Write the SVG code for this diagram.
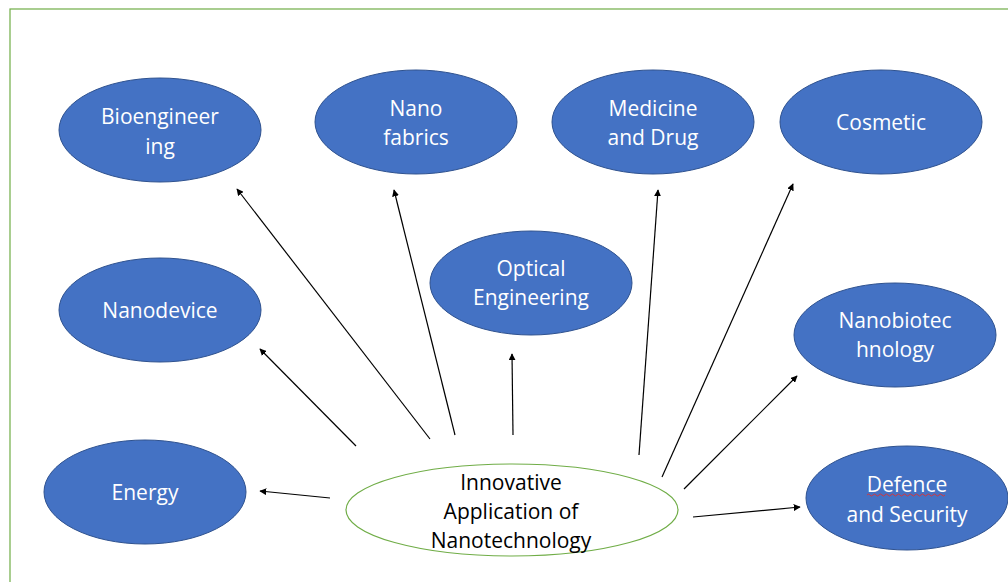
<svg xmlns="http://www.w3.org/2000/svg" width="1008" height="582" viewBox="0 0 1008 582">
  <style>
    .node { fill: #4472C4; stroke: #2F528F; stroke-width: 1; }
    .label { font-family: "Open Sans", "Liberation Sans", sans-serif; font-size: 21px; fill: #FFFFFF; text-anchor: middle; dominant-baseline: central; }
    .center-label { font-family: "Open Sans", "Liberation Sans", sans-serif; font-size: 21px; fill: #000000; text-anchor: middle; dominant-baseline: central; }
    .link { stroke: #000000; stroke-width: 1.2; fill: none; marker-end: url(#arrow); }
  </style>
  <defs>
    <marker id="arrow" viewBox="0 0 10 10" refX="9" refY="5" markerWidth="7" markerHeight="7" markerUnits="userSpaceOnUse" orient="auto">
      <path d="M0,0 L10,5 L0,10 z" fill="#000000"/>
    </marker>
  </defs>

  <rect x="0" y="0" width="1008" height="582" fill="#FFFFFF"/>
  <!-- frame -->
  <rect x="10" y="9" width="1010" height="590" fill="none" stroke="#70AD47" stroke-width="1.2"/>

  <!-- connectors -->
  <g id="connectors">
    <line class="link" x1="330" y1="498" x2="260" y2="491"/>
    <line class="link" x1="356" y1="446" x2="260" y2="349"/>
    <line class="link" x1="430" y1="439" x2="237" y2="189"/>
    <line class="link" x1="455" y1="435" x2="394" y2="190"/>
    <line class="link" x1="513" y1="435" x2="512" y2="354"/>
    <line class="link" x1="639" y1="455" x2="658" y2="190"/>
    <line class="link" x1="662" y1="477" x2="793" y2="184"/>
    <line class="link" x1="684" y1="489" x2="797" y2="376"/>
    <line class="link" x1="693" y1="517" x2="800" y2="507"/>
  </g>

  <g id="bioengineering">
    <ellipse class="node" cx="160" cy="130" rx="101" ry="52"/>
    <text class="label" x="160" y="116">Bioengineer</text>
    <text class="label" x="160" y="146">ing</text>
  </g>
  <g id="nano-fabrics">
    <ellipse class="node" cx="416" cy="122" rx="101" ry="52"/>
    <text class="label" x="416" y="108">Nano</text>
    <text class="label" x="416" y="137">fabrics</text>
  </g>
  <g id="medicine">
    <ellipse class="node" cx="653" cy="122" rx="101" ry="52"/>
    <text class="label" x="653" y="108">Medicine</text>
    <text class="label" x="653" y="137">and Drug</text>
  </g>
  <g id="cosmetic">
    <ellipse class="node" cx="881" cy="122" rx="101" ry="52"/>
    <text class="label" x="881" y="122">Cosmetic</text>
  </g>
  <g id="nanodevice">
    <ellipse class="node" cx="160" cy="310" rx="101" ry="52"/>
    <text class="label" x="160" y="310">Nanodevice</text>
  </g>
  <g id="optical-engineering">
    <ellipse class="node" cx="531" cy="283" rx="101" ry="52"/>
    <text class="label" x="531" y="268">Optical</text>
    <text class="label" x="531" y="297">Engineering</text>
  </g>
  <g id="nanobiotechnology">
    <ellipse class="node" cx="895" cy="335" rx="101" ry="52"/>
    <text class="label" x="895" y="320">Nanobiotec</text>
    <text class="label" x="895" y="349">hnology</text>
  </g>
  <g id="energy">
    <ellipse class="node" cx="145" cy="492" rx="101" ry="52"/>
    <text class="label" x="145" y="492">Energy</text>
  </g>
  <g id="defence">
    <ellipse class="node" cx="907" cy="498" rx="101" ry="52"/>
    <text class="label" x="907" y="484">Defence</text>
    <path d="M867,495 q1.5,-2 3,0 t3,0 t3,0 t3,0 t3,0 t3,0 t3,0 t3,0 t3,0 t3,0 t3,0 t3,0 t3,0 t3,0 t3,0 t3,0 t3,0 t3,0 t3,0 t3,0 t3,0 t3,0 t3,0 t3,0 t3,0 t3,0" fill="none" stroke="#E03030" stroke-width="0.9"/>
    <text class="label" x="907" y="514">and Security</text>
  </g>
  <g id="center">
    <ellipse cx="512" cy="510" rx="166" ry="46" fill="#FFFFFF" stroke="#70AD47" stroke-width="1.2"/>
    <text class="center-label" x="511" y="482">Innovative</text>
    <text class="center-label" x="511" y="511">Application of</text>
    <text class="center-label" x="511" y="540">Nanotechnology</text>
  </g>
</svg>
